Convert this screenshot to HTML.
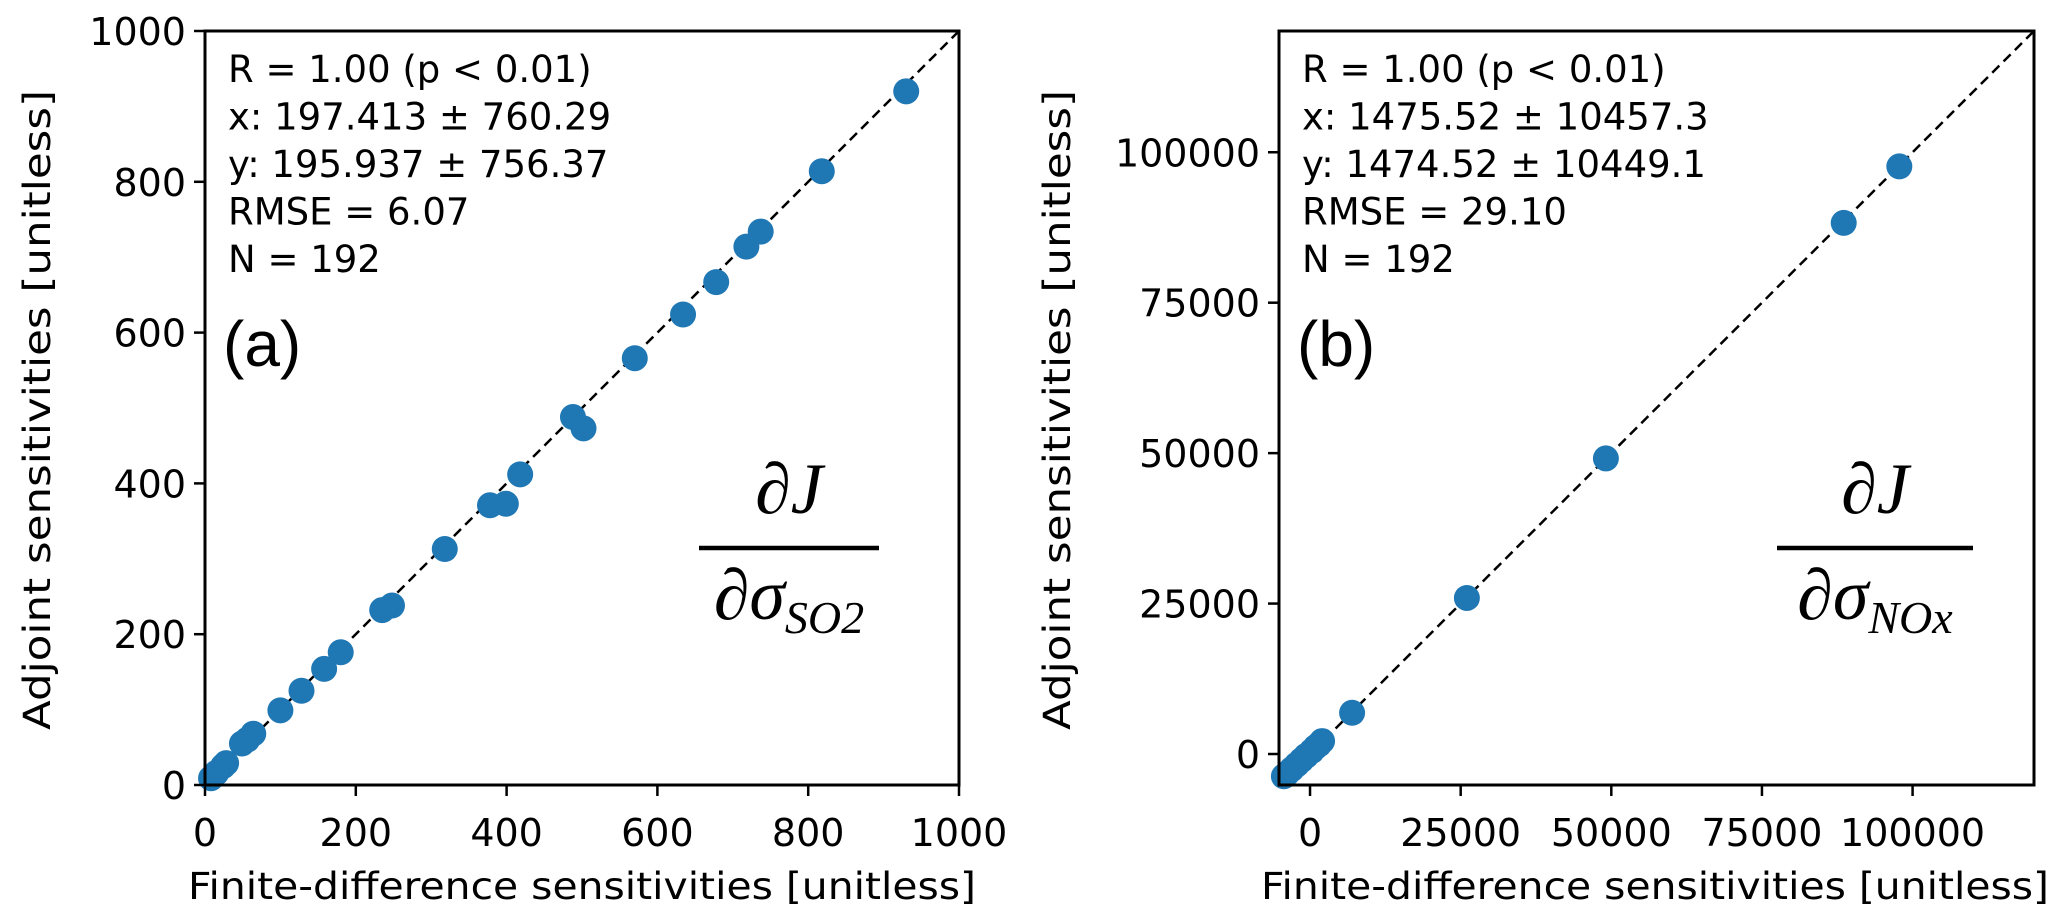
<!DOCTYPE html>
<html><head><meta charset="utf-8"><style>
html,body{margin:0;padding:0;background:#fff;}
svg{display:block;font-family:"DejaVu Sans","Liberation Sans",sans-serif;}
</style></head><body>
<svg id="chart" width="2067" height="924" viewBox="0 0 2067 924" xmlns="http://www.w3.org/2000/svg"></svg>
<script>
// Panel (a) data
const aX = [930,818,737,718,678,634,570,502,488,418,399,378,318,248,235,180,158,128,100,64,56,49,28,24,15,8];
const aY = [920,814,734,714,667,624,566,473,488,412,373,371,313,238,232,176,154,125,99,68,60,55,29,25,16,9];
const aTicks = [0,200,400,600,800,1000];
const aTickLabels = ["0","200","400","600","800","1000"];
const aStats = ["R = 1.00 (p < 0.01)","x: 197.413 ± 760.29","y: 195.937 ± 756.37","RMSE = 6.07","N = 192"];
// Panel (b) data
const bX = [97800,88570,49100,26030,6980,2000,1500,950,300,-630,-1400,-2200,-3000,-3800,-4340];
const bY = [97650,88260,49120,25930,6850,2150,1600,1170,500,-290,-1000,-1760,-2500,-3230,-3700];
const bTicks = [0,25000,50000,75000,100000];
const bTickLabels = ["0","25000","50000","75000","100000"];
const bStats = ["R = 1.00 (p < 0.01)","x: 1475.52 ± 10457.3","y: 1474.52 ± 10449.1","RMSE = 29.10","N = 192"];

const NS="http://www.w3.org/2000/svg";
const svg=document.getElementById('chart');
function mk(tag,attrs,parent){const e=document.createElementNS(NS,tag);for(const k in attrs)e.setAttribute(k,attrs[k]);(parent||svg).appendChild(e);return e;}

function panel(cfg){
  const g=mk('g',{});
  
  
  const L=cfg.left,R=cfg.left+cfg.w,T=31,B=785;
  const sx=v=>L+(v-cfg.min)/(cfg.max-cfg.min)*(R-L);
  const sy=v=>B-(v-cfg.min)/(cfg.max-cfg.min)*(B-T);
  const ln=mk('line',{x1:sx(cfg.min),y1:sy(cfg.min),x2:sx(cfg.max),y2:sy(cfg.max),stroke:'#000','stroke-width':2.5,'stroke-dasharray':'10,6'},g);
  
  
  for(let i=0;i<cfg.xs.length;i++){
    const c=mk('circle',{cx:sx(cfg.xs[i]),cy:sy(cfg.ys[i]),r:13,fill:'#1f77b4'},g);
    
    
  }
  const fr=mk('rect',{x:L,y:T,width:R-L,height:B-T,fill:'none',stroke:'#000','stroke-width':3},g);
  
  
  for(let i=0;i<cfg.ticks.length;i++){
    const v=cfg.ticks[i];
    const tx=mk('line',{x1:sx(v),y1:B,x2:sx(v),y2:B+11,stroke:'#000','stroke-width':2.5},g);
    
    
    const lx=mk('text',{x:sx(v),y:846,'font-size':38,'text-anchor':'middle',fill:'#000'},g);
    lx.textContent=cfg.labels[i];
    
    
    const ty=mk('line',{x1:L,y1:sy(v),x2:L-11,y2:sy(v),stroke:'#000','stroke-width':2.5},g);
    
    
    const ly=mk('text',{x:L-19,y:sy(v)+14,'font-size':38,'text-anchor':'end',fill:'#000'},g);
    ly.textContent=cfg.labels[i];
    
    
  }
  const xl=mk('text',{x:cfg.xlabelX,y:899,'font-size':37,'text-anchor':'middle',textLength:788,lengthAdjust:'spacingAndGlyphs',fill:'#000'},g);
  xl.textContent='Finite-difference sensitivities [unitless]';
  
  
  const yl=mk('text',{x:0,y:0,'font-size':37,'text-anchor':'middle',textLength:640,lengthAdjust:'spacingAndGlyphs',fill:'#000',transform:`translate(${cfg.ylabelX},410) rotate(-90)`},g);
  yl.textContent='Adjoint sensitivities [unitless]';
  
  
  for(let i=0;i<cfg.stats.length;i++){
    const s=mk('text',{x:L+23,y:82+i*47.5,'font-size':37,fill:'#000'},g);
    s.textContent=cfg.stats[i];
    
    
  }
  const pl=mk('text',{x:L+18,y:366,'font-size':64,fill:'#000','font-family':'Liberation Sans, sans-serif'},g);
  pl.textContent=cfg.letter;
  
  
  const fc=cfg.fracX;
  const num=mk('text',{x:fc,y:513,'font-size':72,'text-anchor':'middle','font-style':'italic','font-family':'Liberation Serif, serif',fill:'#000'},g);
  num.textContent='∂J';
  
  
  const bar=mk('line',{x1:fc-cfg.fracHalf,y1:548,x2:fc+cfg.fracHalf,y2:548,stroke:'#000','stroke-width':4.5},g);
  
  
  const den=mk('text',{x:fc,y:619,'font-size':72,'text-anchor':'middle','font-style':'italic','font-family':'Liberation Serif, serif',fill:'#000'},g);
  
  
  const t1=mk('tspan',{},den);t1.textContent='∂σ';
  const t2=mk('tspan',{'font-size':46,dy:14},den);t2.textContent=cfg.sub;
}

panel({name:'panel-a-so2',left:205,w:754,min:0,max:1000,xs:aX,ys:aY,ticks:aTicks,labels:aTickLabels,stats:aStats,letter:'(a)',fracX:789,fracHalf:90,sub:'SO2',xlabelX:582,ylabelX:50});
panel({name:'panel-b-nox',left:1279,w:755,min:-5150,max:120150,xs:bX,ys:bY,ticks:bTicks,labels:bTickLabels,stats:bStats,letter:'(b)',fracX:1875,fracHalf:98,sub:'NOx',xlabelX:1655,ylabelX:1070});
</script>
</body></html>
